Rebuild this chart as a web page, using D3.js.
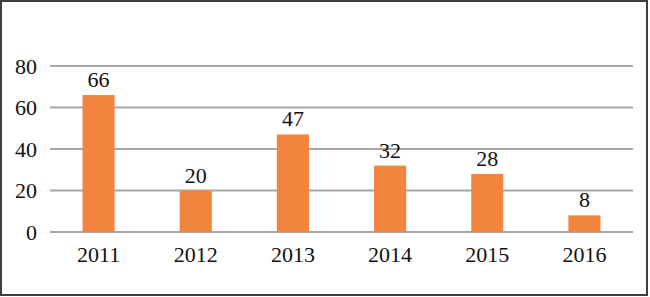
<!DOCTYPE html>
<html>
<head>
<meta charset="utf-8">
<script src="https://cdn.jsdelivr.net/npm/d3@7"></script>
<style>
  body { margin: 0; background: #fff; }
  svg text { font-family: "Liberation Serif", "DejaVu Serif", serif; fill: #111; }
</style>
</head>
<body>
<div id="chart"></div>
<script>
// Chart data
const years = ['2011', '2012', '2013', '2014', '2015', '2016'];
const counts = [66, 20, 47, 32, 28, 8];
const yTicks = [0, 20, 40, 60, 80];

const width = 650;
const height = 297;
const margin = {top: 66, right: 17, bottom: 65, left: 50};

const svg = d3.select('#chart')
    .append('svg')
    .attr('width', width)
    .attr('height', height);

// Outer frame
svg.append('rect')
    .attr('x', 1)
    .attr('y', 1)
    .attr('width', width - 4)
    .attr('height', height - 3)
    .attr('fill', 'none')
    .attr('stroke', '#404040')
    .attr('stroke-width', 2);

const x = d3.scaleBand()
    .domain(years)
    .range([margin.left, width - margin.right])
    .paddingInner(0.67)
    .paddingOuter(0.335);

const y = d3.scaleLinear()
    .domain([0, 80])
    .range([height - margin.bottom, margin.top]);

// Gridlines
svg.append('g')
    .selectAll('line')
    .data(yTicks)
    .join('line')
    .attr('x1', margin.left)
    .attr('x2', width - margin.right)
    .attr('y1', d => y(d))
    .attr('y2', d => y(d))
    .attr('stroke', '#a6a6a6')
    .attr('stroke-width', 2);

// Y axis labels
svg.append('g')
    .selectAll('text')
    .data(yTicks)
    .join('text')
    .attr('x', 37)
    .attr('y', d => y(d))
    .attr('dy', '0.35em')
    .attr('text-anchor', 'end')
    .style('font-size', '22px')
    .text(d => d);

// Bars
svg.append('g')
    .selectAll('rect')
    .data(counts)
    .join('rect')
    .attr('x', (d, i) => x(years[i]))
    .attr('y', d => y(d))
    .attr('width', x.bandwidth())
    .attr('height', d => y(0) - y(d))
    .attr('fill', '#f3843e');

// Value labels
svg.append('g')
    .selectAll('text')
    .data(counts)
    .join('text')
    .attr('x', (d, i) => x(years[i]) + x.bandwidth() / 2)
    .attr('y', d => y(d) - 8)
    .attr('text-anchor', 'middle')
    .style('font-size', '22px')
    .text(d => d);

// X axis labels
svg.append('g')
    .selectAll('text')
    .data(years)
    .join('text')
    .attr('x', d => x(d) + x.bandwidth() / 2)
    .attr('y', 262)
    .attr('text-anchor', 'middle')
    .style('font-size', '22px')
    .text(d => d);
</script>
</body>
</html>
